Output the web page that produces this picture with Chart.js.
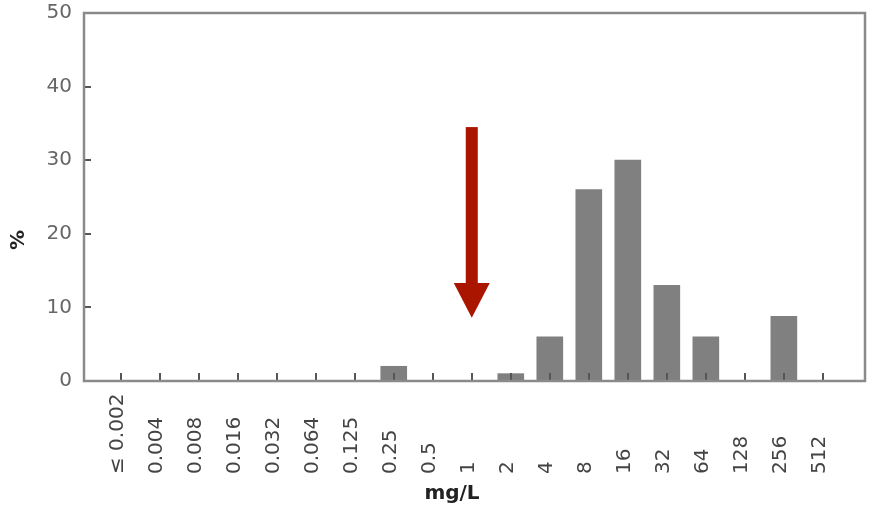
<!DOCTYPE html>
<html>
<head>
<meta charset="utf-8">
<script src="https://cdn.jsdelivr.net/npm/chart.js@4.4.0/dist/chart.umd.min.js"></script>
<style>
  html, body { margin: 0; padding: 0; background: #fff; }
  #wrap { width: 875px; height: 513px; }
</style>
</head>
<body>
<div id="wrap"><canvas id="chart"></canvas></div>
<script>
// MIC categories (mg/L) and % of isolates
const CATEGORIES = ['≤ 0.002', '0.004', '0.008', '0.016', '0.032', '0.064', '0.125', '0.25', '0.5',
  '1', '2', '4', '8', '16', '32', '64', '128', '256', '512'];
const PERCENT = [0, 0, 0, 0, 0, 0, 0, 2, 0, 0, 1, 6, 26, 30, 13, 6, 0, 8.8, 0];
const Y_TICKS = [0, 10, 20, 30, 40, 50];

// breakpoint arrow (category index, top value, tip value)
const ARROW_INDEX = 9;
const ARROW_TOP = 34.5;
const ARROW_HEAD = 13.3;
const ARROW_TIP = 8.6;

const FRAME_COLOR = '#8a8a8a';
const BAR_COLOR = '#808080';
const ARROW_COLOR = '#aa1500';

/** Frame, inward ticks, rotated category labels, axis titles and arrow. */
const decorations = {
  id: 'decorations',
  afterDatasetsDraw(chart) {
    const { ctx, chartArea: a, scales: { x, y } } = chart;
    ctx.save();

    // inward tick marks
    ctx.strokeStyle = '#555';
    ctx.lineWidth = 2;
    ctx.beginPath();
    CATEGORIES.forEach((_, i) => {
      const px = Math.round(x.getPixelForValue(i));
      ctx.moveTo(px, a.bottom);
      ctx.lineTo(px, a.bottom - 8);
    });
    Y_TICKS.forEach((v) => {
      const py = Math.round(y.getPixelForValue(v));
      ctx.moveTo(a.left, py);
      ctx.lineTo(a.left + 7, py);
    });
    ctx.stroke();

    // frame
    ctx.strokeStyle = FRAME_COLOR;
    ctx.lineWidth = 2.5;
    ctx.strokeRect(a.left, a.top, a.right - a.left, a.bottom - a.top);

    // category labels, read bottom to top
    ctx.fillStyle = '#444';
    ctx.font = '20px "DejaVu Sans"';
    ctx.textAlign = 'left';
    ctx.textBaseline = 'middle';
    CATEGORIES.forEach((label, i) => {
      ctx.save();
      ctx.translate(x.getPixelForValue(i) - 3, 474);
      ctx.rotate(-Math.PI / 2);
      ctx.fillText(label, 0, 0);
      ctx.restore();
    });

    // axis titles
    ctx.fillStyle = '#222';
    ctx.font = 'bold 20px "DejaVu Sans"';
    ctx.textAlign = 'center';
    ctx.fillText('mg/L', 452, 494);
    ctx.save();
    ctx.translate(19, 240);
    ctx.rotate(-Math.PI / 2);
    ctx.fillText('%', 0, 0);
    ctx.restore();

    // breakpoint arrow
    const ax = x.getPixelForValue(ARROW_INDEX);
    const yTop = y.getPixelForValue(ARROW_TOP);
    const yHead = y.getPixelForValue(ARROW_HEAD);
    const yTip = y.getPixelForValue(ARROW_TIP);
    ctx.fillStyle = ARROW_COLOR;
    ctx.fillRect(ax - 6, yTop, 12, yHead - yTop + 1);
    ctx.beginPath();
    ctx.moveTo(ax - 18, yHead);
    ctx.lineTo(ax + 18, yHead);
    ctx.lineTo(ax, yTip);
    ctx.closePath();
    ctx.fill();

    ctx.restore();
  },
};

new Chart(document.getElementById('chart'), {
  type: 'bar',
  data: {
    datasets: [{
      label: '%',
      data: PERCENT.map((v, i) => ({ x: i, y: v })),
      backgroundColor: BAR_COLOR,
      borderWidth: 0,
      barThickness: 26,
    }],
  },
  options: {
    responsive: true,
    maintainAspectRatio: false,
    animation: false,
    layout: { padding: { top: 13, right: 10, bottom: 0, left: 0 } },
    plugins: {
      legend: { display: false },
      tooltip: { enabled: false },
    },
    scales: {
      x: {
        type: 'linear',
        offset: false,
        min: -0.94,
        max: 19.08,
        ticks: { display: false },
        grid: { display: false },
        border: { display: false },
        afterFit: (scale) => { scale.height = 132; },
      },
      y: {
        min: 0,
        max: 50,
        afterBuildTicks: (scale) => { scale.ticks = Y_TICKS.map((v) => ({ value: v })); },
        ticks: {
          color: '#666',
          padding: 12,
          font: { family: 'DejaVu Sans', size: 20 },
        },
        grid: { display: false, drawTicks: false },
        border: { display: false },
        afterFit: (scale) => {
          scale.width = 84;
          scale.paddingTop = 0;
          scale.paddingBottom = 0;
        },
      },
    },
  },
  plugins: [decorations],
});
</script>
</body>
</html>
